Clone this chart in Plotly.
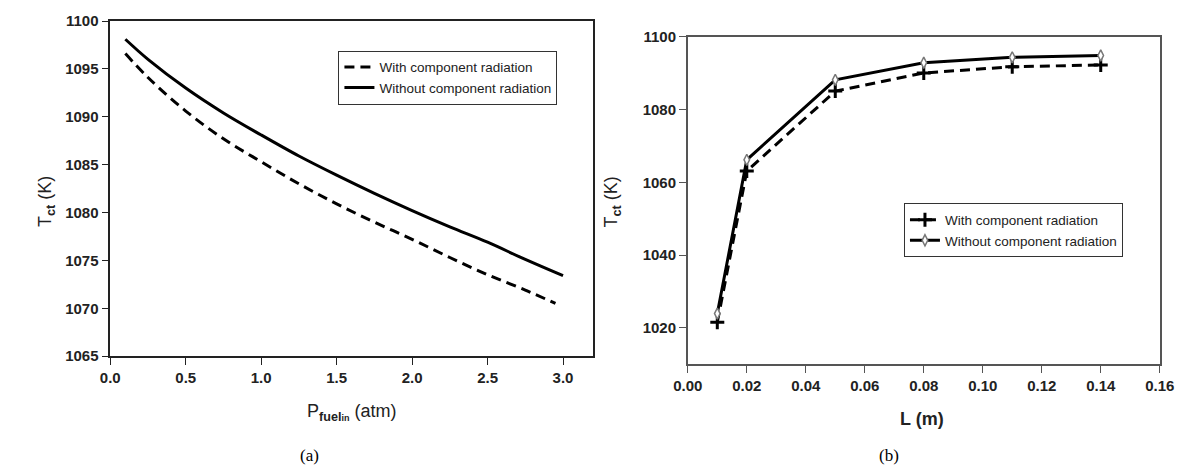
import plotly.graph_objects as go

# Panel (a): core temperature vs fuel inlet pressure
p_fuel = [0.1, 0.25, 0.5, 0.75, 1.0, 1.25, 1.5, 1.75, 2.0, 2.25, 2.5, 2.75, 3.0]
t_without_a = [1098.1, 1096.0, 1093.0, 1090.4, 1088.1, 1085.9, 1083.9, 1082.0,
               1080.2, 1078.5, 1076.9, 1075.1, 1073.4]
p_fuel_with = [0.1, 0.25, 0.5, 0.75, 1.0, 1.25, 1.5, 1.75, 2.0, 2.25, 2.5, 2.75, 2.95]
t_with_a = [1096.6, 1094.1, 1090.6, 1087.7, 1085.3, 1083.0, 1080.9, 1079.0,
            1077.2, 1075.3, 1073.5, 1071.9, 1070.5]

# Panel (b): core temperature vs length
length_m = [0.01, 0.02, 0.05, 0.08, 0.11, 0.14]
t_with_b = [1021.5, 1063.1, 1085.1, 1090.1, 1091.8, 1092.3]
t_without_b = [1023.9, 1066.2, 1088.2, 1092.9, 1094.4, 1094.9]

label_with = "With component radiation"
label_without = "Without component radiation"

W, H = 1203, 475
SANS = "Liberation Sans, Arial, sans-serif"
SERIF = "Liberation Serif, DejaVu Serif, serif"

fig = go.Figure()

fig.add_trace(go.Scatter(
    x=p_fuel_with, y=t_with_a, mode="lines", name=label_with,
    line=dict(color="black", width=3, dash="10px,6px", shape="spline",
              smoothing=1.0),
    xaxis="x", yaxis="y", legend="legend"))
fig.add_trace(go.Scatter(
    x=p_fuel, y=t_without_a, mode="lines", name=label_without,
    line=dict(color="black", width=3, shape="spline", smoothing=1.0),
    xaxis="x", yaxis="y", legend="legend"))

fig.add_trace(go.Scatter(
    x=length_m, y=t_with_b, mode="lines+markers", name=label_with,
    line=dict(color="black", width=3, dash="10px,6px"),
    marker=dict(symbol="cross-thin-open", size=10,
                line=dict(color="black", width=3)),
    xaxis="x2", yaxis="y2", legend="legend2"))
fig.add_trace(go.Scatter(
    x=length_m, y=t_without_b, mode="lines+markers", name=label_without,
    line=dict(color="black", width=3),
    marker=dict(symbol="diamond-tall", size=8, color="white",
                line=dict(color="#777777", width=1.5)),
    xaxis="x2", yaxis="y2", legend="legend2"))

tickfont = dict(family=SANS, size=15, color="#222222", weight="bold")


def axis_style(color):
    return dict(showline=True, linecolor=color, linewidth=1.5, mirror=True,
                ticks="outside", ticklen=7, tickwidth=1, tickcolor=color,
                showgrid=False, zeroline=False, tickfont=tickfont)


def legend_style(x, y):
    return dict(x=x, y=y, xanchor="left", yanchor="top",
                bordercolor="#333333", borderwidth=1, bgcolor="white",
                font=dict(family=SANS, size=13.5, color="#222222"),
                tracegroupgap=0, itemwidth=30)


fig.update_layout(
    width=W, height=H, margin=dict(l=0, r=0, t=0, b=0),
    paper_bgcolor="white", plot_bgcolor="white",
    showlegend=True,
    xaxis=dict(domain=[97.7 / W, 593 / W], range=[0, 3.2], dtick=0.5,
               tickformat=".1f", anchor="y", **axis_style("#222222")),
    yaxis=dict(domain=[1 - 360 / H, 1 - 12.5 / H], range=[1065, 1100], dtick=5,
               anchor="x", **axis_style("#222222")),
    xaxis2=dict(domain=[690 / W, 1174 / W], range=[0, 0.16], dtick=0.02,
                tickformat=".2f", anchor="y2", **axis_style("#555555")),
    yaxis2=dict(domain=[1 - 368.3 / H, 1 - 29 / H], range=[1010, 1100],
                tickvals=[1020, 1040, 1060, 1080, 1100],
                anchor="x2", **axis_style("#555555")),
    legend=legend_style(331.7 / W, 1 - 43.3 / H),
    legend2=legend_style(911.7 / W, 1 - 201.7 / H),
)

title_font = dict(family=SANS, size=18, color="#222222")
annotations = [
    dict(x=345 / W, y=1 - 418 / H,
         text="P<sub><b>fuel</b><span style='font-size:9px'><b>in</b></span></sub> (atm)",
         font=title_font),
    dict(x=33 / W, y=1 - 200 / H, text="T<sub><b>ct</b></sub> (K)", textangle=-90,
         font=title_font),
    dict(x=930 / W, y=1 - 425 / H, text="<b>L (m)</b>", font=title_font),
    dict(x=613 / W, y=1 - 200 / H, text="T<sub><b>ct</b></sub> (K)", textangle=-90,
         font=title_font),
    dict(x=302 / W, y=1 - 463 / H, text="(a)",
         font=dict(family=SERIF, size=17, color="black")),
    dict(x=896 / W, y=1 - 463 / H, text="(b)",
         font=dict(family=SERIF, size=17, color="black")),
]
for a in annotations:
    a.update(xref="paper", yref="paper", showarrow=False,
             xanchor="center", yanchor="middle")
fig.update_layout(annotations=annotations)

fig.write_html("out.html")
